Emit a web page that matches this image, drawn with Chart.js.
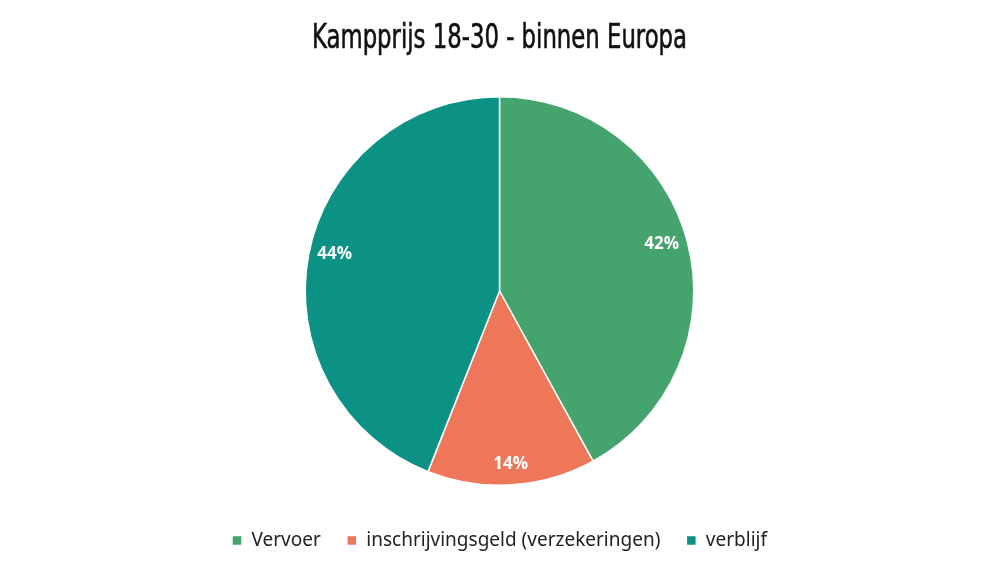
<!DOCTYPE html>
<html>
<head>
<meta charset="utf-8">
<script src="https://cdn.jsdelivr.net/npm/chart.js@4"></script>
<style>
  html, body { margin: 0; padding: 0; background: #fff; }
  #wrap { width: 999px; height: 562px; }
</style>
</head>
<body>
<div id="wrap"><canvas id="myChart" width="999" height="562"></canvas></div>
<script>
// pie data
let labels = ['Vervoer', 'inschrijvingsgeld (verzekeringen)', 'verblijf'];
let percentages = [42, 14, 44];
let sliceColors = ['#45a46e', '#ee7759', '#0c9185'];
let chartTitle = 'Kampprijs 18-30 - binnen Europa';

// title drawn by hand so it can be squeezed like the condensed original font
const condensedTitle = {
  id: 'condensedTitle',
  afterDraw(chart) {
    const ctx = chart.ctx;
    ctx.save();
    ctx.font = '34px "Liberation Sans Narrow", "DejaVu Sans Condensed", sans-serif';
    ctx.fillStyle = '#111111';
    ctx.strokeStyle = '#111111';
    ctx.lineWidth = 0.6;
    ctx.textBaseline = 'alphabetic';
    ctx.textAlign = 'center';
    const w = ctx.measureText(chartTitle).width;
    const sx = Math.min(1, 375 / w);
    ctx.translate(chart.width / 2, 48);
    ctx.scale(sx, 1);
    ctx.fillText(chartTitle, 0, 0);
    ctx.strokeText(chartTitle, 0, 0);
    ctx.restore();
  }
};

// push the legend a bit lower without shrinking the pie
const legendShift = {
  id: 'legendShift',
  afterLayout(chart) {
    chart.legend.top += 19;
    chart.legend.bottom += 19;
  }
};

// percentage labels, placed "inside end" like the original
const sliceLabels = {
  id: 'sliceLabels',
  afterDatasetsDraw(chart) {
    const ctx = chart.ctx;
    const meta = chart.getDatasetMeta(0);
    ctx.save();
    ctx.font = 'bold 17px "Open Sans", sans-serif';
    ctx.fillStyle = '#ffffff';
    ctx.textAlign = 'center';
    ctx.textBaseline = 'middle';
    meta.data.forEach(function(arc, i) {
      const mid = (arc.startAngle + arc.endAngle) / 2;
      const dx = Math.cos(mid), dy = Math.sin(mid);
      const extent = 20 * Math.abs(dx) + 10 * Math.abs(dy);
      const r = arc.outerRadius - 5 - extent;
      ctx.fillText(percentages[i] + '%', arc.x + dx * r, arc.y + dy * r - 5);
    });
    ctx.restore();
  }
};

new Chart('myChart', {
  type: 'pie',
  data: {
    labels: labels,
    datasets: [{
      data: percentages,
      backgroundColor: sliceColors,
      borderColor: '#ffffff',
      borderWidth: 1.5
    }]
  },
  plugins: [sliceLabels, condensedTitle, legendShift],
  options: {
    responsive: false,
    animation: false,
    layout: { padding: { top: 96, bottom: 21, left: 0, right: 0 } },
    plugins: {
      title: { display: false },
      legend: {
        position: 'bottom',
        labels: {
          color: '#222222',
          font: { family: '"Noto Sans", sans-serif', size: 19 },
          boxWidth: 10,
          boxHeight: 10,
          padding: 26
        }
      },
      tooltip: { enabled: false }
    }
  }
});
</script>
</body>
</html>
